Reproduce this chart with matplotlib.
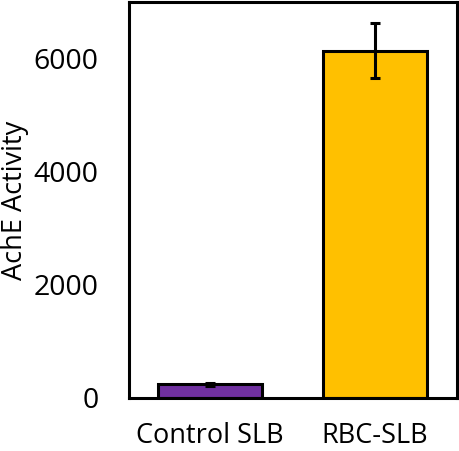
import numpy as np
import matplotlib
matplotlib.use('Agg')
import matplotlib.pyplot as plt

categories = ['Control SLB', 'RBC-SLB']
activity = [240, 6140]
activity_err = [20, 490]
bar_colors = ['#7030A0', '#FFC000']

plt.rcParams['font.family'] = ['Open Sans', 'DejaVu Sans']

fig = plt.figure(figsize=(4.59, 4.51), dpi=100)
ax = fig.add_axes([129 / 459, 53 / 451, 328 / 459, 396 / 451])

x = np.arange(len(categories))
ax.bar(x, activity, width=0.63, color=bar_colors, edgecolor='black', linewidth=2.2,
       yerr=activity_err, capsize=3.5, error_kw={'elinewidth': 2.2, 'capthick': 2.2, 'ecolor': 'black'})

ax.set_xlim(-0.49, 1.5)
ax.set_ylim(0, 7000)
ax.set_yticks([0, 2000, 4000, 6000])
ax.set_xticks(x)
ax.set_xticklabels(categories)
ax.tick_params(axis='y', length=0, labelsize=20.5, pad=22)
ax.tick_params(axis='x', length=0, labelsize=19.5, pad=17)
ax.set_ylabel('AchE Activity', fontsize=19.5)
ax.yaxis.set_label_coords(-0.305, 0.5)

for spine in ax.spines.values():
    spine.set_linewidth(2.2)

fig.savefig('out.png', dpi=100)
